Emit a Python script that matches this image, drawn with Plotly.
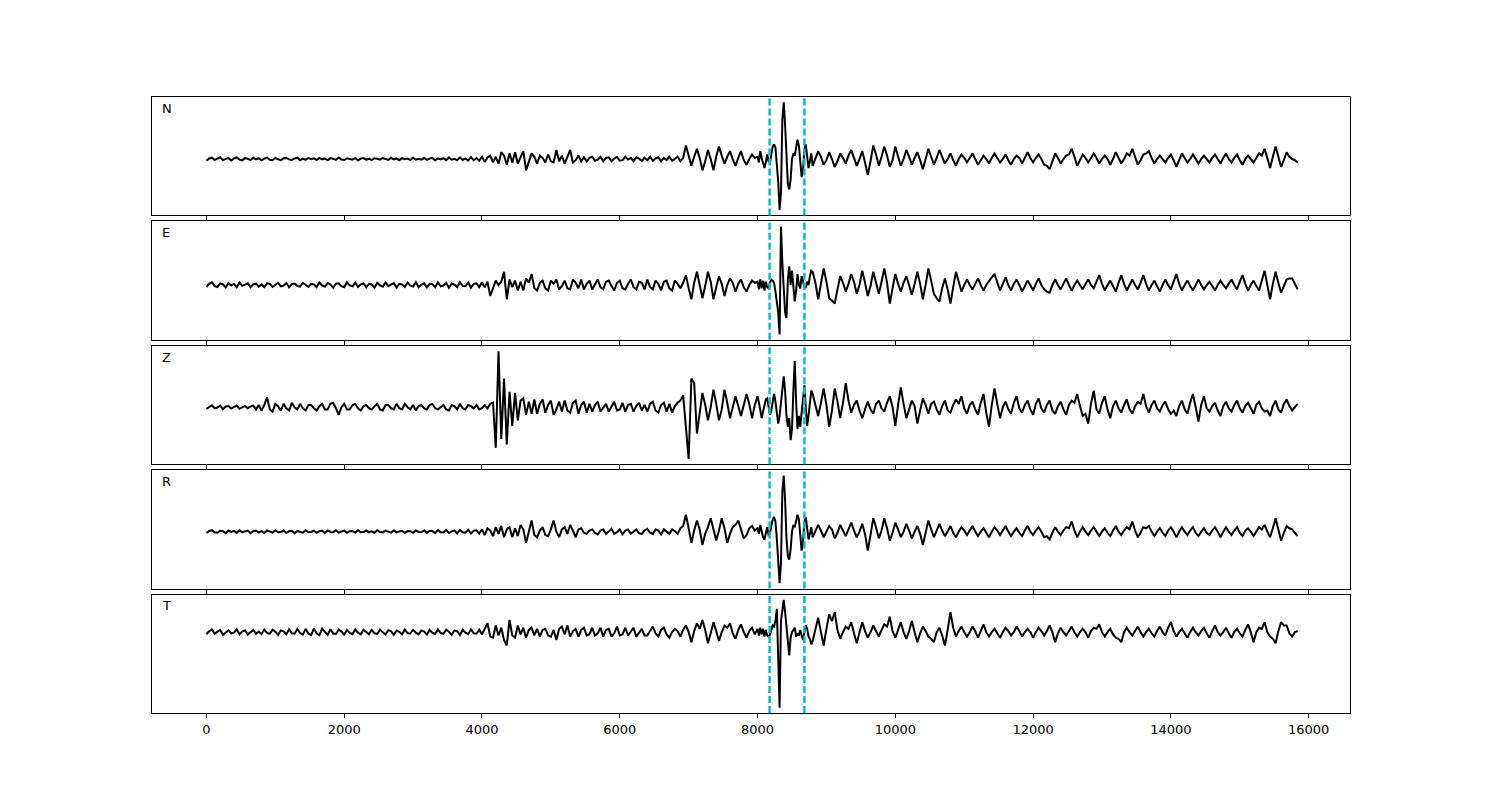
import plotly.graph_objects as go
from plotly.subplots import make_subplots

# ---------------- data ----------------
components = ["N", "E", "Z", "R", "T"]

# sample grid: pre-event part, dense part around the main arrival, coda
coarse_step = 40
dense_start, dense_step = 8000, 20
coda_start = 8800

# amplitudes (arbitrary units, baseline 0)
N_a = [-1.5, 0.5, 1.2, -0.8, 0.3, 1.5, -1, -0.2, 1, -1.3, 0.6, 1.4, -0.5, -1.2, 0.8, 0.2, -0.9, 1.1, -0.4, 0.7,
       -1.1, 0.4, 1.3, -0.6, -1, 0.9, 0.1, -1.2, 0.7, 1, -0.3, -0.8, 0.5, 1.2, -1, 0.3, -0.6, 0.9, -0.2, 0.6,
       -0.8, 1, -0.4, 0.5, -1.1, 0.8, 0.2, -0.7, 1.3, -0.5, -0.9, 0.6, 0.1, -0.6, 1, -1.2, 0.4, 0.8, -0.5, 0.3,
       -1, 0.7, 0.2, -0.6, 0.9, -0.3, -0.8, 1.1, -0.4, 0.5, -1, 0.8, -0.2, 0.4, -0.9, 1.2, -0.6, 0.3, -0.5, 0.9,
       -0.7, 0.4, 1, -1.2, 0.5, -0.3, 0.8, -1, 1.4, -0.6, 0.2, -1.1, 1.5, -0.8, 0.6, -1.3, 1.8, -1.2, 0.9, -1.5,
       2, -2.5, 1.5, 3, -3, 2, -4, 6, 3, -5, 5, -3, 6, -4, 2, 7, -10, -3, 5, 2,
       -4, 3, 1, -3, 4, -2, -3, 8, -2, 3, -4, 2, 8, -3, -1, 3, -2, 1.5, -2, 1,
       2, -1.5, -0.5, 2, -2, 1, 1.5, -2, 0.5, 1.8, -1.5, -1, 2, -0.5, 1, -2, 1.5, 0.3, -1.8, 1.2,
       -1, 2, -1.5, 0.5, 1.5, -2, 1, -1, 2, -1.5, 0.5, 2, -2, 1, 12, 4, -6, 2, 9, 1,
       -10, -2, 8, 0, -10, 2, 11, 3, -4, 2, 7, 0, -6, 1, 7, -1, -5, 0, 4, 1]
N_b = [2, -3, 7, 1, -4, -8, -3, 4, -2, -3,
       4, 11, 13, 10, -5, -20, -45, -30, 35, 50,
       30, -5, -22, -27, -18, 0, 5, 3, 10, 17,
       12, -4, -16, -10, 8, 13, 2, -8, -2, 5]
N_c = [-6, 1, 7, 2, -5, -1, 6, 0, -7, -2, 5, 1, -4, 3, 8, 1, -6, 0, 7, -3,
       -14, -2, 12, 4, -6, 2, 11, 3, -7, -1, 11, 2, -6, 0, 8, 2, -5, 1, 6, -1,
       -9, 0, 9, 2, -5, 1, 8, 2, -4, 0, 5, -1, -6, 0, 4, 1, -3, 1, 5, 0,
       -5, -1, 3, 0, -4, 1, 5, 1, -3, 0, 4, -1, -5, 0, 3, 1, -4, 1, 6, 1,
       -3, 1, 4, 0, -5, -6, -9, -2, 5, 1, -4, 0, 3, 4, 9, 2, -6, -1, 4, 1,
       -3, 1, 5, 1, -4, 0, 3, 0, -5, 0, 6, 1, -4, 0, 5, 3, 9, 2, -5, -1,
       4, 5, 7, 1, -4, 0, 3, 0, -3, 1, 4, -1, -7, -1, 5, 1, -3, 0, 4, 0,
       -4, 0, 3, 0, -3, 1, 4, 0, -4, 1, 5, 0, -3, 1, 4, -1, -5, 0, 3, 0,
       -3, 1, 5, 3, 9, 1, -8, 2, 11, 2, -7, -1, 6, 2, 0, -1, -3]

E_a = [-2, 1, 2.5, -1, -1.8, 1.5, 0.5, -2.2, 1.8, -0.5, 1, -2, 2.2, -0.8, 0.3, 1.6, -2, 0.8, 1.2, -1.5,
       0.5, -2, 1.5, 1, -1.8, 0.2, 2, -1.2, -0.6, 1.8, -2.2, 0.7, 1.3, -1, -1.5, 2, 0.4, -1.8, 1, 0.6,
       -2, 2.3, -0.5, -1.5, 1.8, 0.3, -2.4, 1.2, 1.5, -1, -2, 2.5, -0.4, -1.2, 2, -1.8, 0.6, 1.4, -2.2, 1,
       0.5, -2.5, 2, -0.3, -1.6, 2.4, -1, 0.2, 1.7, -2.3, 1, 0.6, -1.8, 2.2, -0.6, -1.4, 2.6, -2, 0.4, 1.5,
       -2.2, 1.1, 0.8, -2, 2.4, -1.2, -0.5, 2, -2.5, 1.4, 0.3, -1.9, 2.6, -1, -1.2, 2.2, -2.4, 0.9, 1.5, -2,
       2.5, -2, 3, -10, -3, 4, 0, 3, 12, -13, 5, -2, 4, -5, 3, -5, 6, 2, 10, -3,
       -5, 2, 4, -3, -5, 4, 1, 5, -4, -1, 4, -3, -4, 5, 2, -3, 5, -4, 1, 4,
       -4, 0, 5, -2, -4, 3, 4, -1, -5, 2, 4, -3, -4, 1, 5, -2, -4, 3, 2, -4,
       5, -2, -4, 4, 1, -5, 3, 4, -3, -5, 4, 1, -3, 2, 9, -3, -13, 2, 12, 0,
       -12, -1, 12, 3, -13, -2, 8, 1, -10, 0, 6, 2, -6, 1, 5, -2, -6, 0, 4, 2]
E_b = [3, -4, 5, -3, 4, -5, 3, -2, -3, 2,
       5, 4, 2, -6, -15, -25, -45, 53, 20, -10,
       -25, -30, 5, 17, 0, 13, 2, -15, -5, 10,
       0, -3, 8, 4, -3, -2, 3, 0, 8, 13]
E_c = [12, 2, -13, 0, 15, 3, -12, -14, -17, -4, 8, 2, -6, 1, 10, 3, -8, 0, 13, 2,
       -10, -1, 12, 2, -8, 3, 15, 2, -17, -3, 10, 1, -6, 2, 8, 0, -9, 1, 12, 1,
       -13, 0, 15, 4, -8, -12, -15, -3, 6, -4, -17, -2, 12, 3, -6, 0, 5, 0, -4, 1,
       6, 0, -5, 0, 4, 7, 10, 2, -5, 1, 7, 0, -5, 1, 5, 0, -6, -1, 4, 0,
       -5, 1, 6, 0, -4, -6, -7, 0, 5, 0, -4, 1, 6, 0, -5, 0, 4, 0, -4, 1,
       5, 0, -3, 3, 9, 1, -5, 0, 4, -1, -6, 2, 9, 1, -5, 0, 5, 0, -4, 2,
       9, 1, -5, 0, 4, -1, -6, 0, 5, 0, -4, 3, 10, 1, -5, 0, 4, -1, -5, 0,
       5, 0, -4, 0, 3, -1, -5, 0, 4, 0, -3, 1, 5, 0, -4, 3, 9, 1, -5, 0,
       4, -1, -5, 4, 13, 0, -13, 1, 12, 2, -7, -1, 5, 6, 6, 1, -4]

Z_a = [-1.5, 0.5, 1.8, -1, -0.3, 1.5, -1.8, 0.6, 1, -1.2, 0.2, 1.6, -1.5, -0.4, 1.2, -1, 0.8, 1.5, -2, 2,
       -3, 2, 9, -2, -4, 3, 1, -3, 3, -1, -3, 4, 0, -2, 3, -1, -3, 2, 2, -1,
       -3, 1, 3, -2, -2, 3, 4, -1, -7, 0, 3, -2, -2, 2, 3, -1, -3, 1, 2, -1,
       -2, 1, 3, -2, -3, 2, 2, -1, -2, 3, -1, -2, 3, 0, -2, 2, -3, 1, 2, -1,
       -2, 2, 3, -1, -2, 0, 2, -2, -3, 2, 1, -2, 3, -1, -2, 2, 1, -1, 2, -2,
       -1, 2, -1, 3, 4, -37, 51, -29, 26, -34, 14, -17, 13, -12, 6, 8, -7, 5, -6, 7,
       -6, 3, 7, -5, 2, 6, -7, -2, 5, -4, 6, -3, -5, 4, 6, -6, 2, 5, -5, 3,
       -4, 2, 5, -4, 0, 3, -4, 1, 5, -3, -2, 4, -4, 2, 3, -4, 1, 4, -3, 2,
       -4, 3, 5, -3, -5, 2, 4, -4, 3, -5, 1, 4, 6, 11, -20, -47, 26, 22, -24, -5,
       13, 2, -12, 0, 16, 3, -12, -2, 16, 4, -10, 0, 10, 1, -8, 2, 12, 3, -10, 2]
Z_b = [10, 4, -5, -10, -4, 3, 7, 8, 0, -7,
       -3, 6, 12, 5, -8, -15, -8, 5, 18, 28,
       15, -8, -18, -10, -30, -20, 15, 42, 5, -20,
       -8, -18, -5, 10, 20, 0, -17, -8, 5, 15]
Z_c = [12, 3, -8, 4, 17, 2, -18, -3, 17, 5, -10, 4, 22, 6, -5, 2, 6, -3, -10, -2,
       5, -2, -6, 3, 6, -1, -4, 4, 10, 0, -17, 2, 18, 3, -10, -2, 6, 1, -15, -3,
       8, 2, -6, 3, 5, -2, -7, 1, 6, -3, -5, 2, 7, 3, 10, -1, -6, 2, 5, -2,
       -7, 4, 12, -5, -18, 2, 17, 3, -10, 0, 5, -2, -6, 4, 10, -1, -5, 2, 6, -2,
       -7, 3, 8, -1, -5, 2, 6, -3, -6, 1, 5, -2, -7, 2, 6, 4, 12, 1, -8, -6,
       -15, 3, 15, -2, -6, 4, 10, -2, -10, 1, 6, -1, -5, 2, 7, -2, -6, 1, 5, 3,
       12, 1, -5, 2, 6, -1, -4, 2, 5, -2, -6, -3, -8, 1, 6, -2, -6, 4, 12, 0,
       -13, 2, 10, -1, -4, 1, 4, -3, -8, 1, 5, -1, -4, 2, 6, -1, -5, 1, 4, -1,
       -6, 2, 5, -1, -4, -3, -8, 1, 6, -2, -5, 3, 7, 1, -3, 0, 3]

R_a = [-1.2, 0.6, 1.3, -0.5, -1, 0.8, 0.3, -1.4, 1, -0.2, 0.7, -1.1, 1.2, -0.6, 0.2, 1, -1.3, 0.5, 0.9, -0.8,
       0.4, -1.2, 1.1, 0.2, -0.9, 1.3, -0.6, -0.4, 1, -1.1, 0.3, 0.8, -1.3, 0.6, 0.1, -0.9, 1.2, -0.5, -0.3, 0.9,
       -1, 0.5, 0.7, -1.2, 1, -0.3, -0.6, 1.2, -0.8, 0.2, 0.9, -1.1, 0.4, 0.6, -1, 1.3, -0.5, -0.4, 1.1, -0.7,
       0.3, -1, 1.2, -0.4, -0.7, 1, -0.2, -0.9, 1.3, -0.6, 0.2, 0.8, -1.2, 0.5, 0.4, -1, 1.1, -0.3, -0.6, 1,
       -1.1, 0.6, 0.5, -1.3, 1.4, -0.5, -0.8, 1.6, -1.2, 0.3, 1, -1.6, 1.5, -0.6, -1, 1.8, -1.7, 0.8, 1.2, -1.8,
       2, -3, 3, 1, -4, 4, -2, 5, -5, 2, 4, -5, 3, -4, 6, 2, -10, 1, 10, -3,
       -5, 1, 4, -3, -4, 2, 10, 0, -5, 2, 4, -2, 6, 1, -5, 2, 3, -1, -2, 1,
       2, -1, -2.5, 1, 2, -2, 0.5, 2.5, -2, -0.5, 2, -2.5, 1, 2, -2, 0, 2, -1.5, -2, 1,
       2.5, -1, -2, 2, 1, -2.5, 2, 0, -2, 2, 0.5, -2, 3, 5, 15, 3, -10, 1, 10, 2,
       -12, -2, 4, 12, 2, -8, 1, 12, 3, -10, -2, 4, 6, 10, 2, -6, -3, 3, 5, 1]
R_b = [3, -2, 6, 0, -5, -7, -2, 4, -3, -2,
       5, 11, 13, 9, -6, -22, -46, -28, 36, 50,
       28, -6, -22, -25, -16, 0, 6, 4, 10, 15,
       11, -5, -17, -9, 9, 13, 2, -7, -2, 4]
R_c = [-5, 0, 6, 1, -5, 0, 5, 2, -6, -1, 6, 1, -4, 2, 8, 1, -5, 0, 7, -2,
       -17, -3, 12, 4, -6, 1, 12, 3, -8, -1, 8, 2, -5, 0, 7, 1, -6, 0, 5, -2,
       -12, -1, 10, 2, -5, 1, 7, 1, -4, 0, 5, -1, -5, 0, 4, 1, -3, 1, 5, 0,
       -4, 0, 3, -1, -5, 0, 4, 1, -3, 1, 5, 0, -4, 0, 3, -1, -4, 1, 5, 0,
       -3, 1, 4, 0, -5, -4, -7, -1, 4, 0, -3, 1, 4, 3, 9, 1, -5, 0, 4, 0,
       -3, 1, 4, 0, -4, 0, 3, -1, -4, 1, 5, 0, -3, 1, 4, 2, 9, 1, -5, -1,
       4, 3, 5, 0, -4, 0, 3, -1, -4, 1, 4, 0, -5, 0, 4, 0, -3, 1, 4, -1,
       -4, 0, 3, -1, -3, 1, 4, 0, -5, 0, 4, 0, -3, 1, 4, -1, -4, 1, 3, 0,
       -4, 0, 4, 2, 6, 0, -5, 3, 12, 2, -8, -1, 5, 3, 2, -1, -4]

T_a = [-2, 1, 2.5, -1.5, 0.5, 2, -2.5, 0, 1.8, -1.2, -0.5, 2.5, -2, 0.8, 1.5, -2.2, 0.3, 2, -1.5, 0.6,
       -1.8, 2.4, -0.6, -1.5, 2.2, 0.4, -2.5, 1.5, 0.8, -2, 2.6, -1, -1.4, 2.8, -0.8, -2.2, 3, -1.2, -2.6, 3.2,
       -1, -2.8, 3.2, 0.2, -2.5, 2.6, -1.2, -1.6, 2.4, 0.5, -2.2, 2, -0.6, -1.8, 2.4, -0.4, -2, 2.2, 0.6, -1.8,
       2, -1, -1.6, 2.3, -0.2, -2.2, 1.8, 0.8, -2.4, 1.5, 0.4, -2, 2.4, -1, -1.2, 2.2, -0.4, -2, 1.6, 0.6,
       -2.2, 2, -0.5, -1.6, 2.5, -0.8, -1.5, 2.2, 0.3, -2.4, 1.6, 0.7, -2.6, 2.2, -0.5, -1.8, 2.6, -1, -1.4, 2.2,
       -2, 3, 8, -4, -5, 6, -3, 4, -7, -12, 11, -3, -5, 6, -2, 4, -5, 2, 4, -3,
       3, -4, 2, 3, -3, -4, 2, -7, 3, 5, -2, 6, -4, 1, 3, -4, 2, 4, -3, -2,
       4, -3, -1, 4, -4, 2, 3, -4, -1, 5, -3, -2, 4, -3, 1, 4, -4, 0, 3, -3,
       -3, 1, 5, -1, -4, 2, 4, -2, -5, 0, 3, 1, -4, 2, 6, 0, -9, 1, 8, 3,
       11, 2, -10, -1, 9, 1, -8, 0, 6, 4, 8, -1, -6, 2, 7, 0, -5, 1, 4, -2]
T_b = [3, -3, 4, -2, 3, -4, 2, -3, -4, -2,
       2, 6, 5, 10, 21, -20, -68, 10, 19, 29,
       18, 5, -12, -21, -5, 0, 2, 4, -4, -1,
       -3, 2, -3, -7, 0, 6, 3, -4, -6, -11]
T_c = [-8, 2, 13, 0, -12, 3, 16, 10, 18, 2, -6, 0, 5, 3, 9, -1, -10, 0, 9, 1,
       -5, 0, 6, 1, -4, 2, 7, 5, 14, 1, -5, 2, 9, 0, -6, 1, 10, 0, -9, -1,
       5, 1, -4, -6, -9, 0, 4, -3, -12, 2, 18, 4, -4, 1, 5, 0, -4, 0, 5, 1,
       -5, 1, 7, 0, -4, 0, 3, -1, -5, 0, 4, 1, -3, 0, 5, 1, -4, 0, 3, 0,
       -5, 0, 4, 1, -3, 1, 6, 0, -9, -1, 4, 0, -3, 1, 5, 0, -4, 0, 3, 0,
       -5, 1, 4, 3, 7, 0, -4, 0, 3, -2, -5, -6, -9, 0, 4, 0, -3, 1, 5, 0,
       -4, 0, 3, -1, -4, 1, 5, 0, -3, 4, 9, 1, -4, 0, 3, -1, -5, 0, 4, 0,
       -3, 1, 4, -1, -5, 1, 6, 0, -3, 0, 4, -1, -5, 0, 3, -1, -4, 2, 7, 0,
       -9, 0, 4, 3, 9, 0, -4, -6, -10, 1, 9, 6, 6, -1, -4, 0, 1]

traces = {
    "N": (N_a, N_b, N_c),
    "E": (E_a, E_b, E_c),
    "Z": (Z_a, Z_b, Z_c),
    "R": (R_a, R_b, R_c),
    "T": (T_a, T_b, T_c),
}

picks = [8175, 8680]          # dashed cyan markers
xtick_vals = [0, 2000, 4000, 6000, 8000, 10000, 12000, 14000, 16000]
xtick_text = ["0", "2000", "4000", "6000", "8000", "10000", "12000", "14000", "16000"]
x_range = [-790, 16600]


def build(a, b, c):
    t = ([coarse_step * i for i in range(len(a))]
         + [dense_start + dense_step * i for i in range(len(b))]
         + [coda_start + coarse_step * i for i in range(len(c))])
    return t, list(a) + list(b) + list(c)


# ---------------- figure ----------------
n = len(components)
fig = make_subplots(rows=n, cols=1, shared_xaxes=True,
                    vertical_spacing=6 / 616)

for r, comp in enumerate(components, start=1):
    t, y = build(*traces[comp])
    fig.add_trace(go.Scatter(x=t, y=y, mode="lines",
                             line=dict(color="black", width=2),
                             showlegend=False, hoverinfo="skip"),
                  row=r, col=1)
    lo, hi = min(y), max(y)
    pad = 0.05 * (hi - lo)
    fig.update_yaxes(range=[lo - pad, hi + pad], showticklabels=False,
                     ticks="", showgrid=False, zeroline=False,
                     showline=True, mirror=True, linecolor="black",
                     linewidth=1, row=r, col=1)
    fig.update_xaxes(range=x_range, tickvals=xtick_vals, ticktext=xtick_text,
                     showgrid=False, zeroline=False, showline=True,
                     mirror=True, linecolor="black", linewidth=1,
                     ticks="outside", ticklen=4, tickcolor="black",
                     tickwidth=1, showticklabels=(r == n), row=r, col=1)
    for p in picks:
        fig.add_vline(x=p, line=dict(color="#00BFBF", width=2.5,
                                     dash="7px,3px"), row=r, col=1)
    suffix = "" if r == 1 else str(r)
    fig.add_annotation(text=comp, xref=f"x{suffix} domain",
                       yref=f"y{suffix} domain", x=0.007, y=0.985,
                       xanchor="left", yanchor="top", showarrow=False,
                       font=dict(size=13, color="#000000"))

fig.update_layout(
    width=1500, height=800,
    margin=dict(l=144, r=158, t=89, b=95),
    paper_bgcolor="white", plot_bgcolor="white",
    font=dict(family="DejaVu Sans", size=13, color="black"),
)

fig.write_html("out.html")
